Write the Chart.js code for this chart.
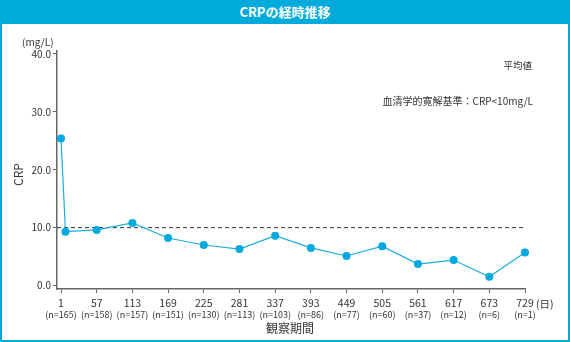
<!DOCTYPE html>
<html>
<head>
<meta charset="utf-8">
<script src="https://cdn.jsdelivr.net/npm/chart.js@4/dist/chart.umd.min.js"></script>
<style>
  body { margin: 0; width: 570px; height: 342px; overflow: hidden; background: #fff; font-family: "Noto Sans CJK JP", "Noto Sans", sans-serif; }
  #frame { position: absolute; left: 0; top: 0; width: 566px; height: 340px; border: 2px solid #00abdc; border-top: none; }
  #header { position: absolute; left: 0; top: 0; width: 570px; height: 24px; background: #00abdc; color: #fff; font-size: 13px; font-weight: bold; text-align: center; line-height: 24px; }
  .txt { position: absolute; color: #333; white-space: nowrap; }
  #wrap { position: absolute; left: 0; top: 24px; width: 570px; height: 318px; }
</style>
</head>
<body>
<div id="frame"></div>
<div id="header">CRPの経時推移</div>
<div id="wrap"><canvas id="crpChart"></canvas></div>
<div class="txt" style="left:22px; top:34px; font-size:10px;">(mg/L)</div>
<div class="txt" style="left:6px; top:166px; font-size:12px; transform: rotate(-90deg);">CRP</div>
<div class="txt" style="left:266px; top:319px; font-size:12px;">観察期間</div>
<div class="txt" style="right:38px; top:58px; font-size:9.5px;">平均値</div>
<div class="txt" style="right:37px; top:93px; font-size:10px;">血清学的寛解基準：CRP&lt;10mg/L</div>
<script>
// 観察日と平均値
const days = [1, 8, 57, 113, 169, 225, 281, 337, 393, 449, 505, 561, 617, 673, 729];
const crpMean = [25.4, 9.3, 9.6, 10.8, 8.2, 7.0, 6.3, 8.6, 6.5, 5.1, 6.8, 3.7, 4.4, 1.5, 5.7];

// 目盛り
const xTickDays = [1, 57, 113, 169, 225, 281, 337, 393, 449, 505, 561, 617, 673, 729];
const xTickN = ['(n=165)', '(n=158)', '(n=157)', '(n=151)', '(n=130)', '(n=113)', '(n=103)', '(n=86)', '(n=77)', '(n=60)', '(n=37)', '(n=12)', '(n=6)', '(n=1)'];
const yTicks = [0, 10, 20, 30, 40];
const remissionLevel = 10;

const blue = '#1badE0';
const axisGray = '#666';

// n数と「(日)」を描く
const nLabels = {
  id: 'nLabels',
  afterDraw(chart) {
    const c = chart.ctx;
    const x = chart.scales.x;
    c.save();
    c.fillStyle = '#333';
    c.textAlign = 'center';
    c.textBaseline = 'middle';
    c.font = '9px "Noto Sans CJK JP"';
    xTickDays.forEach((d, i) => {
      c.fillText(xTickN[i], x.getPixelForValue(d), 291);
    });
    c.font = '10.5px "Noto Sans CJK JP"';
    c.textAlign = 'left';
    c.fillText('(日)', x.getPixelForValue(729) + 11, 280);
    c.restore();
  }
};

new Chart(document.getElementById('crpChart').getContext('2d'), {
  type: 'line',
  data: {
    datasets: [{
      label: '平均値',
      data: days.map((d, i) => ({ x: d, y: crpMean[i] })),
      borderColor: blue,
      backgroundColor: '#00a8e0',
      borderWidth: 1.2,
      pointRadius: 4,
      pointBorderWidth: 0,
      tension: 0,
      clip: false
    }, {
      label: '血清学的寛解基準',
      data: [{ x: -5.3, y: remissionLevel }, { x: 729, y: remissionLevel }],
      borderColor: '#333',
      borderWidth: 1,
      borderDash: [4, 3],
      pointRadius: 0
    }]
  },
  options: {
    responsive: true,
    maintainAspectRatio: false,
    animation: false,
    layout: { padding: { top: 27, right: 45, bottom: 0, left: 0 } },
    plugins: { legend: { display: false }, tooltip: { enabled: false } },
    scales: {
      x: {
        type: 'linear',
        min: -5.3,
        max: 729,
        afterBuildTicks: s => { s.ticks = xTickDays.map(v => ({ value: v })); },
        afterFit: s => { s.height = 53; },
        grid: { drawOnChartArea: false, tickLength: 4, tickColor: axisGray },
        border: { color: axisGray, width: 1.5 },
        ticks: { color: '#333', font: { size: 10.5, family: '"Noto Sans CJK JP"' }, padding: 4, maxRotation: 0, autoSkip: false }
      },
      y: {
        min: -0.6,
        max: 40.5,
        afterBuildTicks: s => { s.ticks = yTicks.map(v => ({ value: v })); },
        afterFit: s => { s.width = 57; },
        grid: { drawOnChartArea: false, tickLength: 4, tickColor: axisGray },
        border: { color: axisGray, width: 1.5 },
        ticks: { color: '#333', font: { size: 10, family: '"Noto Sans CJK JP"' }, padding: 2, callback: v => v.toFixed(1) }
      }
    }
  },
  plugins: [nLabels]
});
</script>
</body>
</html>
